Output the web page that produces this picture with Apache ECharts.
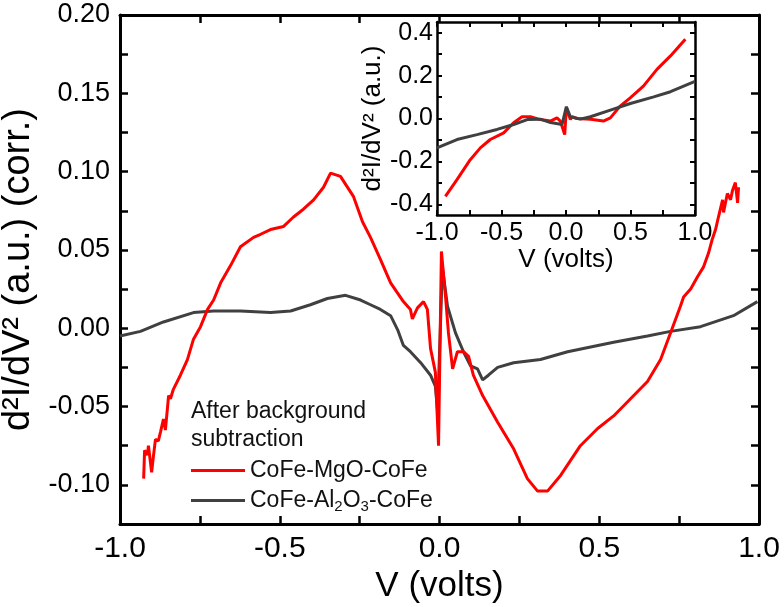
<!DOCTYPE html>
<html>
<head>
<meta charset="utf-8">
<script src="https://cdn.jsdelivr.net/npm/echarts@6/dist/echarts.min.js"></script>
<style>
    html, body {margin: 0; padding: 0; background: #fff;}
    #chart {width: 784px; height: 607px;}
</style>
</head>
<body>
<div id="chart"></div>
<script>
// main plot, [V, d2I/dV2]
const mgoMain = [
    [-0.926, -0.096], [-0.923, -0.078], [-0.914, -0.081], [-0.911, -0.075], [-0.901, -0.092],
    [-0.895, -0.081], [-0.889, -0.071], [-0.880, -0.072], [-0.873, -0.066], [-0.864, -0.058],
    [-0.858, -0.065], [-0.851, -0.050], [-0.848, -0.043], [-0.842, -0.045], [-0.833, -0.039],
    [-0.811, -0.030], [-0.789, -0.020], [-0.770, -0.007], [-0.748, 0.001], [-0.726, 0.012],
    [-0.707, 0.018], [-0.685, 0.029], [-0.654, 0.040], [-0.623, 0.052], [-0.582, 0.058],
    [-0.560, 0.060], [-0.529, 0.063], [-0.488, 0.065], [-0.457, 0.071], [-0.426, 0.076],
    [-0.394, 0.082], [-0.363, 0.090], [-0.341, 0.099], [-0.310, 0.097], [-0.269, 0.084],
    [-0.241, 0.068], [-0.216, 0.058], [-0.185, 0.044], [-0.153, 0.029], [-0.113, 0.017],
    [-0.091, 0.012], [-0.085, 0.006], [-0.069, 0.013], [-0.050, 0.017], [-0.038, 0.012],
    [-0.028, -0.013], [-0.013, -0.028], [-0.003, -0.075], [0.006, 0.049], [0.019, 0.020],
    [0.028, -0.003], [0.041, -0.026], [0.056, -0.015], [0.075, -0.015], [0.091, -0.018],
    [0.106, -0.030], [0.135, -0.043], [0.182, -0.060], [0.232, -0.077], [0.275, -0.096],
    [0.307, -0.104], [0.338, -0.104], [0.379, -0.094], [0.441, -0.075], [0.495, -0.064],
    [0.545, -0.056], [0.598, -0.045], [0.651, -0.034], [0.692, -0.020], [0.723, -0.003],
    [0.754, 0.014], [0.764, 0.020], [0.786, 0.025], [0.808, 0.033], [0.826, 0.039],
    [0.842, 0.048], [0.854, 0.057], [0.864, 0.063], [0.873, 0.071], [0.886, 0.082],
    [0.889, 0.074], [0.901, 0.086], [0.911, 0.082], [0.917, 0.088], [0.926, 0.093],
    [0.933, 0.080], [0.936, 0.090]
];
const alMain = [
    [-1.000, -0.005], [-0.936, -0.002], [-0.864, 0.004], [-0.770, 0.010], [-0.707, 0.011],
    [-0.623, 0.011], [-0.529, 0.010], [-0.466, 0.011], [-0.404, 0.015], [-0.351, 0.019],
    [-0.294, 0.021], [-0.247, 0.018], [-0.216, 0.015], [-0.185, 0.012], [-0.153, 0.008],
    [-0.131, -0.001], [-0.113, -0.011], [-0.091, -0.015], [-0.059, -0.022], [-0.028, -0.030],
    [-0.013, -0.037], [-0.006, -0.053], [0.009, 0.039], [0.025, 0.014], [0.050, -0.003],
    [0.075, -0.015], [0.097, -0.024], [0.119, -0.026], [0.135, -0.033], [0.153, -0.030],
    [0.182, -0.025], [0.232, -0.022], [0.316, -0.020], [0.401, -0.015], [0.545, -0.009],
    [0.651, -0.005], [0.723, -0.002], [0.817, 0.001], [0.920, 0.008], [0.995, 0.017]
];
// inset, raw data
const mgoInset = [
    [-0.935, -0.363], [-0.845, -0.285], [-0.742, -0.192], [-0.664, -0.137], [-0.587, -0.098],
    [-0.483, -0.067], [-0.406, -0.020], [-0.341, 0.008], [-0.276, 0.008], [-0.199, -0.005],
    [-0.121, -0.012], [-0.070, 0.003], [-0.044, -0.012], [-0.010, -0.075], [0.003, 0.050],
    [0.034, -0.005], [0.047, 0.008], [0.085, 0.000], [0.190, -0.003], [0.290, -0.012],
    [0.344, 0.003], [0.420, 0.058], [0.500, 0.097], [0.600, 0.151], [0.705, 0.229],
    [0.810, 0.292], [0.925, 0.370]
];
const alInset = [
    [-1.000, -0.137], [-0.845, -0.098], [-0.690, -0.075], [-0.535, -0.051], [-0.406, -0.028],
    [-0.300, -0.005], [-0.199, -0.003], [-0.120, -0.019], [-0.031, -0.028], [-0.018, -0.033],
    [0.003, 0.055], [0.034, 0.008], [0.111, -0.003], [0.189, 0.008], [0.344, 0.039],
    [0.499, 0.070], [0.680, 0.101], [0.810, 0.125], [1.000, 0.173]
];
const seriesNames = ['CoFe-MgO-CoFe', 'CoFe-Al2O3-CoFe'];
const insetYLabels = [-0.4, -0.2, 0.0, 0.2, 0.4];
const insetYTicks = [-0.4, -0.3, -0.2, -0.1, 0.0, 0.1, 0.2, 0.3, 0.4];

const FONT = 'Liberation Sans, Arial, sans-serif';
const RED = '#ff0000';
const GRAY = '#404040';

function xFmt(v) {
    return Math.round(v / 0.25) % 2 !== 0 ? '' : v.toFixed(1);
}
function yFmt(v) {
    return Math.round(v / 0.025) % 2 !== 0 ? '' : v.toFixed(2);
}

function frameAxis(extra, lw, tickLen) {
    return Object.assign({
        axisLine: {show: true, onZero: false, lineStyle: {color: '#000', width: lw}},
        axisTick: {show: true, inside: true, length: tickLen, lineStyle: {color: '#000', width: lw - 0.5}},
        axisLabel: {show: false},
        splitLine: {show: false}
    }, extra);
}

let chart = echarts.init(document.getElementById('chart'));
let opts = {
    animation: false,
    backgroundColor: '#fff',
    textStyle: {fontFamily: FONT},
    title: {
        text: 'After background\nsubtraction',
        left: 186, top: 393,
        textStyle: {fontFamily: FONT, fontSize: 23, fontWeight: 'normal', color: '#111', lineHeight: 28}
    },
    legend: {
        data: seriesNames,
        orient: 'vertical',
        left: 186, top: 454,
        icon: 'rect',
        itemWidth: 54, itemHeight: 3, itemGap: 3,
        formatter: function (name) {
            if (name === seriesNames[1]) return '{n|CoFe-Al}{s|2}{n|O}{s|3}{n|-CoFe}';
            return '{n|' + name + '}';
        },
        textStyle: {
            fontFamily: FONT, fontSize: 23, color: '#111',
            rich: {
                n: {fontFamily: FONT, fontSize: 23, color: '#111', lineHeight: 27},
                s: {fontFamily: FONT, fontSize: 15, color: '#111', lineHeight: 27, verticalAlign: 'bottom', padding: [14, 0, 0, 0]}
            }
        }
    },
    grid: [
        {left: 120, right: 25, top: 15, bottom: 83, outerBoundsMode: 'none', containLabel: false},
        {left: 437, right: 89, top: 22, bottom: 392, outerBoundsMode: 'none', containLabel: false,
            show: true, backgroundColor: '#fff', borderWidth: 0}
    ],
    xAxis: [
        frameAxis({
            type: 'value', gridIndex: 0, position: 'bottom', min: -1, max: 1, interval: 0.25,
            name: 'V (volts)', nameLocation: 'middle', nameGap: 34,
            nameTextStyle: {fontFamily: FONT, fontSize: 35, color: '#000'},
            axisLabel: {show: true, margin: 10, fontFamily: FONT, fontSize: 30, color: '#000', formatter: xFmt}
        }, 3, 8),
        frameAxis({type: 'value', gridIndex: 0, position: 'top', min: -1, max: 1, interval: 0.25}, 3, 8),
        frameAxis({
            type: 'value', gridIndex: 1, position: 'bottom', min: -1, max: 1, interval: 0.25,
            name: 'V (volts)', nameLocation: 'middle', nameGap: 30,
            nameTextStyle: {fontFamily: FONT, fontSize: 26, color: '#000'},
            axisLabel: {show: true, margin: 6, fontFamily: FONT, fontSize: 25, color: '#000', formatter: xFmt}
        }, 2.5, 5),
        frameAxis({type: 'value', gridIndex: 1, position: 'top', min: -1, max: 1, interval: 0.25}, 2.5, 5)
    ],
    yAxis: [
        frameAxis({
            type: 'value', gridIndex: 0, position: 'left', min: -0.125, max: 0.2, interval: 0.025,
            name: 'd²I/dV² (a.u.) (corr.)', nameLocation: 'middle', nameGap: 62,
            nameTextStyle: {fontFamily: FONT, fontSize: 38, color: '#000'},
            axisLabel: {show: true, margin: 10, fontFamily: FONT, fontSize: 27, color: '#000', formatter: yFmt}
        }, 3, 8),
        frameAxis({type: 'value', gridIndex: 0, position: 'right', min: -0.125, max: 0.2, interval: 0.025}, 3, 8),
        frameAxis({
            type: 'value', gridIndex: 1, position: 'left', min: -0.45, max: 0.45,
            name: 'd²I/dV² (a.u.)', nameLocation: 'middle', nameGap: 44,
            nameTextStyle: {fontFamily: FONT, fontSize: 26, color: '#000'},
            axisTick: {show: true, inside: true, length: 5, customValues: insetYTicks, lineStyle: {color: '#000', width: 2}},
            axisLabel: {show: true, margin: 4, fontFamily: FONT, fontSize: 25, color: '#000',
                customValues: insetYLabels, formatter: v => v.toFixed(1)}
        }, 2.5, 5),
        frameAxis({
            type: 'value', gridIndex: 1, position: 'right', min: -0.45, max: 0.45,
            axisTick: {show: true, inside: true, length: 5, customValues: insetYTicks, lineStyle: {color: '#000', width: 2}}
        }, 2.5, 5)
    ],
    series: [
        {name: seriesNames[1], type: 'line', xAxisIndex: 0, yAxisIndex: 0, data: alMain,
            symbol: 'none', color: GRAY, lineStyle: {color: GRAY, width: 3}},
        {name: seriesNames[0], type: 'line', xAxisIndex: 0, yAxisIndex: 0, data: mgoMain,
            symbol: 'none', color: RED, lineStyle: {color: RED, width: 3}},
        {name: seriesNames[0], type: 'line', xAxisIndex: 2, yAxisIndex: 2, data: mgoInset,
            symbol: 'none', color: RED, lineStyle: {color: RED, width: 3}},
        {name: seriesNames[1], type: 'line', xAxisIndex: 2, yAxisIndex: 2, data: alInset,
            symbol: 'none', color: GRAY, lineStyle: {color: GRAY, width: 3}}
    ]
};
chart.setOption(opts);
</script>
</body>
</html>
